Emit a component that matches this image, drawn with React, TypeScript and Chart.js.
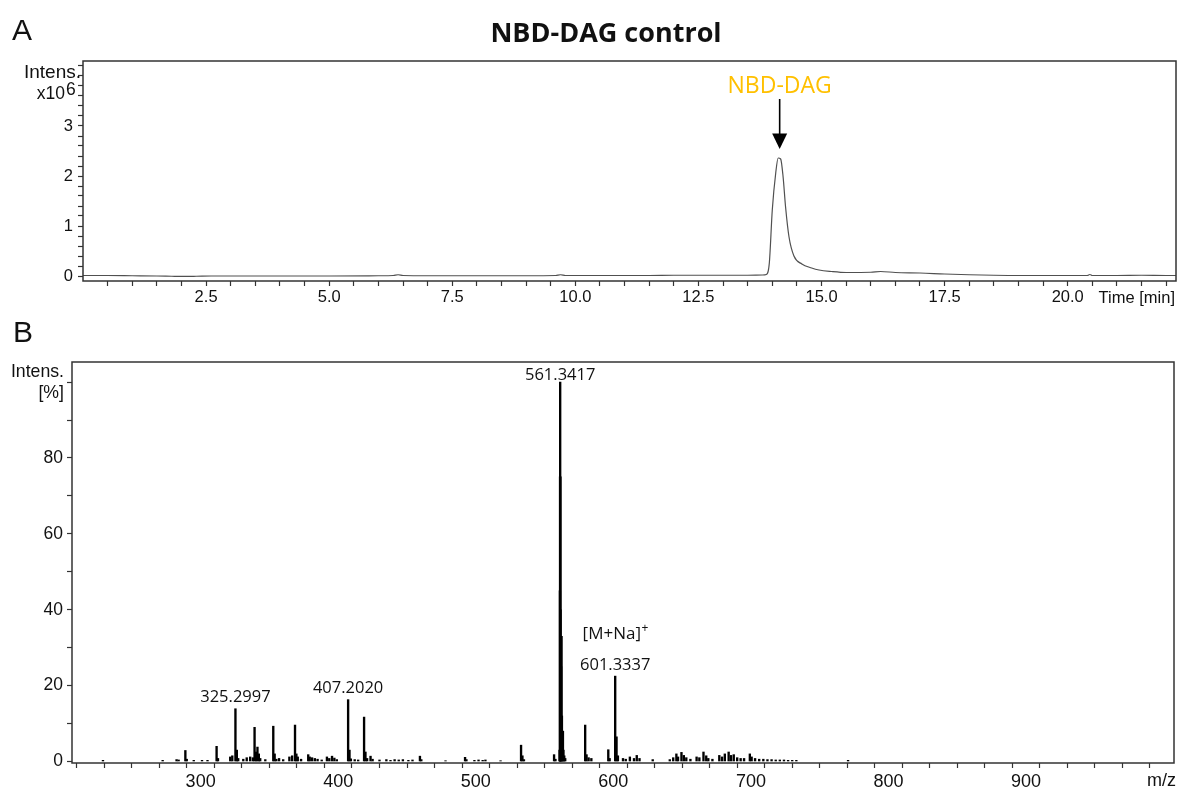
import React, { useEffect, useRef } from "react";
import { Chart, registerables } from "chart.js";

Chart.register(...registerables);
Chart.defaults.font.family = "'Liberation Sans', Arial, sans-serif";

// ---------------- Panel A: chromatogram (Intens. x10^6 vs Time [min]) ----------------
const chromTime: number[] = [
  0, 0.5, 1.0, 1.5, 1.8, 2.0, 2.3, 2.6, 3.0, 4.0, 5.0, 6.0, 6.3, 6.4, 6.5, 7.0, 8.0, 9.0,
  9.6, 9.7, 9.8, 10.5, 11.5, 12.0, 12.5, 13.0, 13.5, 13.8, 13.88, 13.94, 14.0, 14.07,
  14.12, 14.17, 14.22, 14.27, 14.34, 14.44, 14.6, 14.8, 14.95, 15.2, 15.5, 16.0, 16.2,
  16.5, 17.0, 17.5, 18.0, 18.5, 19.0, 19.5, 20.0, 20.4, 20.45, 20.5, 21.0, 21.5, 22.0, 22.2,
];
const chromIntensity: number[] = [
  0.01, 0.01, 0.005, 0.0, -0.005, -0.008, -0.005, 0.0, 0.0, 0.0, 0.0, 0.005, 0.01, 0.025, 0.01, 0.005, 0.005, 0.005,
  0.01, 0.025, 0.01, 0.01, 0.01, 0.015, 0.015, 0.015, 0.015, 0.02, 0.03, 0.26, 1.32, 2.06,
  2.36, 2.34, 1.98, 1.38, 0.78, 0.4, 0.24, 0.16, 0.12, 0.09, 0.07, 0.075, 0.09,
  0.07, 0.06, 0.04, 0.025, 0.015, 0.01, 0.01, 0.01, 0.01, 0.03, 0.01, 0.01, 0.015, 0.01, 0.01,
];
const timeTickLabels: number[] = [2.5, 5.0, 7.5, 10.0, 12.5, 15.0, 17.5, 20.0];
const intensTickLabels: number[] = [0, 1, 2, 3];
const peakAnnotation = { time: 14.15, text: "NBD-DAG" };

// ---------------- Panel B: mass spectrum (Intens. [%] vs m/z) ----------------
const specMz: number[] = [
  229.0, 272.4, 282.5, 284.0, 288.9, 289.9, 295.0, 301.0, 305.0, 311.6,
  312.6, 321.5, 323.0, 325.3, 326.3, 327.3, 331.0, 333.5, 336.0, 338.0,
  339.2, 340.2, 341.3, 342.3, 343.3, 347.0, 352.8, 353.8, 355.0, 357.0,
  360.0, 364.5, 366.5, 368.6, 369.6, 370.6, 373.0, 378.2, 379.3, 381.0,
  383.0, 385.0, 388.0, 391.8, 393.5, 395.5, 397.2, 399.0, 407.2, 408.2,
  409.2, 412.0, 414.5, 418.8, 419.8, 421.0, 423.5, 425.0, 430.0, 435.0,
  438.0, 441.0, 444.0, 447.0, 451.0, 454.0, 459.4, 460.4, 478.0, 492.2,
  493.2, 499.0, 502.0, 505.0, 507.0, 518.0, 532.9, 533.9, 535.0, 556.9,
  557.9, 560.9, 561.15, 561.25, 561.34, 561.45, 561.6, 562.0, 562.34, 562.6,
  563.34, 563.7, 564.3, 565.0, 579.5, 580.5, 582.0, 584.0, 596.3, 597.3,
  601.33, 602.3, 603.3, 607.0, 609.0, 612.0, 615.0, 617.0, 619.0, 628.6,
  641.0, 643.5, 645.8, 647.0, 649.5, 651.2, 653.0, 656.0, 660.5, 662.5,
  665.5, 667.5, 669.0, 672.0, 677.0, 679.0, 681.0, 683.8, 685.5, 687.5,
  690.0, 692.5, 695.0, 699.2, 700.5, 703.0, 706.0, 709.0, 712.0, 715.0,
  718.0, 721.0, 724.0, 727.0, 730.0, 733.0, 770.6,
];
const specRel: number[] = [
  0.3, 0.3, 0.5, 0.4, 2.9, 0.6, 0.3, 0.3, 0.3, 4.0,
  0.8, 1.2, 1.5, 13.9, 3.0, 0.8, 0.6, 1.0, 1.2, 1.0,
  9.0, 2.5, 3.8, 2.0, 0.8, 0.5, 9.3, 2.0, 0.6, 0.8,
  0.5, 1.2, 1.5, 9.6, 2.0, 1.2, 0.6, 1.8, 1.2, 1.0,
  0.8, 0.6, 0.4, 1.2, 0.8, 1.4, 0.9, 0.5, 16.3, 3.0,
  0.7, 0.5, 0.4, 11.7, 2.5, 0.8, 1.4, 0.6, 0.4, 0.5,
  0.3, 0.5, 0.4, 0.5, 0.3, 0.4, 1.4, 0.5, 0.2, 1.1,
  0.5, 0.3, 0.4, 0.3, 0.4, 0.2, 4.3, 1.5, 0.5, 1.8,
  0.6, 3.0, 45, 75, 100, 75, 40, 25, 33, 12,
  8, 3, 1.5, 0.8, 9.6, 1.8, 1.0, 0.8, 3.1, 0.8,
  22.5, 6.5, 1.5, 0.8, 0.6, 1.2, 0.8, 1.6, 0.8, 0.5,
  0.5, 1.0, 2.0, 1.2, 2.4, 1.6, 1.0, 0.6, 1.2, 1.0,
  2.5, 1.5, 0.8, 0.6, 1.6, 1.2, 2.0, 2.5, 1.6, 1.8,
  1.0, 0.8, 0.8, 2.0, 1.2, 0.8, 0.6, 0.6, 0.5, 0.5,
  0.4, 0.4, 0.4, 0.3, 0.3, 0.3, 0.3,
];
const mzTickLabels: number[] = [300, 400, 500, 600, 700, 800, 900];
const relTickLabels: number[] = [0, 20, 40, 60, 80];
const peakLabelMz: number[] = [325.3, 407.2, 561.34, 601.33];
const peakLabelText: string[] = ["325.2997", "407.2020", "561.3417", "601.3337"];
const adductLabel = { mz: 601.33, text: "[M+Na]", sup: "+" };

// ---------------- helpers ----------------
const steps = (start: number, step: number, count: number) =>
  Array.from({ length: count }, (_, i) => +(start + i * step).toFixed(6));
const has = (arr: number[], v: number) => arr.some((a) => Math.abs(a - v) < 1e-6);

const TICK_FONT_A = { family: "'Liberation Sans', Arial, sans-serif", size: 16.5 };
const TICK_FONT_B = { family: "'Liberation Sans', Arial, sans-serif", size: 18 };
const AXIS_COLOR = "#333333";
const TEXT_COLOR = "#111111";

function axisOpts(extra: any) {
  return {
    type: "linear",
    grid: { display: true, drawOnChartArea: false, drawTicks: true, tickLength: 5, tickColor: AXIS_COLOR, tickWidth: 1.2 },
    border: { display: false },
    ...extra,
  };
}

const panelAPlugin = {
  id: "panelA",
  afterDraw(chart: any) {
    const { ctx, chartArea: a, scales } = chart;
    ctx.save();
    ctx.strokeStyle = AXIS_COLOR;
    ctx.lineWidth = 1.5;
    ctx.strokeRect(a.left, a.top, a.right - a.left, a.bottom - a.top);

    ctx.fillStyle = TEXT_COLOR;
    ctx.textBaseline = "alphabetic";
    ctx.font = "30px 'Liberation Sans', Arial, sans-serif";
    ctx.textAlign = "left";
    ctx.fillText("A", 12, 40);

    ctx.font = "bold 27px 'Open Sans', sans-serif";
    ctx.textAlign = "center";
    ctx.fillText("NBD-DAG control", 606, 42);

    ctx.font = "19px 'Liberation Sans', Arial, sans-serif";
    ctx.textAlign = "right";
    ctx.fillText("Intens.", 81, 78);
    ctx.font = "17.5px 'Liberation Sans', Arial, sans-serif";
    ctx.fillText("x10", 65, 99);
    ctx.textAlign = "left";
    ctx.fillText("6", 66, 95);

    ctx.font = "16.5px 'Liberation Sans', Arial, sans-serif";
    ctx.textAlign = "right";
    ctx.textBaseline = "middle";
    ctx.fillText("Time [min]", 1175, a.bottom + 17);

    // annotation arrow
    const x = scales.x.getPixelForValue(peakAnnotation.time);
    const tip = scales.y.getPixelForValue(2.54);
    const tail = scales.y.getPixelForValue(3.54);
    ctx.strokeStyle = "#000";
    ctx.lineWidth = 1.6;
    ctx.beginPath();
    ctx.moveTo(x, tail);
    ctx.lineTo(x, tip - 12);
    ctx.stroke();
    ctx.fillStyle = "#000";
    ctx.beginPath();
    ctx.moveTo(x - 7.5, tip - 15.5);
    ctx.lineTo(x + 7.5, tip - 15.5);
    ctx.lineTo(x, tip);
    ctx.closePath();
    ctx.fill();

    ctx.fillStyle = "#FFC000";
    ctx.font = "23px 'Open Sans', sans-serif";
    ctx.textAlign = "center";
    ctx.textBaseline = "middle";
    ctx.fillText(peakAnnotation.text, x, scales.y.getPixelForValue(3.8));
    ctx.restore();
  },
};

const panelBPlugin = {
  id: "panelB",
  afterDraw(chart: any) {
    const { ctx, chartArea: a, scales } = chart;
    ctx.save();
    ctx.strokeStyle = AXIS_COLOR;
    ctx.lineWidth = 1.5;
    ctx.strokeRect(a.left, a.top, a.right - a.left, a.bottom - a.top);

    ctx.fillStyle = TEXT_COLOR;
    ctx.textBaseline = "alphabetic";
    ctx.font = "30px 'Liberation Sans', Arial, sans-serif";
    ctx.textAlign = "left";
    ctx.fillText("B", 13, 32);

    ctx.font = "17.7px 'Liberation Sans', Arial, sans-serif";
    ctx.textAlign = "right";
    ctx.fillText("Intens.", 64, 67);
    ctx.fillText("[%]", 64, 88);

    ctx.font = "18px 'Liberation Sans', Arial, sans-serif";
    ctx.textBaseline = "middle";
    ctx.fillText("m/z", 1176, a.bottom + 18);

    // peak labels
    ctx.font = "16.5px 'Open Sans', sans-serif";
    ctx.textAlign = "center";
    ctx.textBaseline = "middle";
    const peakTop = (mz: number) => {
      let m = 0;
      specMz.forEach((v, i) => {
        if (Math.abs(v - mz) < 0.3) m = Math.max(m, specRel[i]);
      });
      return m;
    };
    peakLabelMz.forEach((mz, i) => {
      const x = scales.x.getPixelForValue(mz);
      let y = scales.y.getPixelForValue(peakTop(mz)) - 11;
      y = Math.max(y, a.top + 13);
      ctx.fillText(peakLabelText[i], x, y);
    });

    const ax = scales.x.getPixelForValue(adductLabel.mz);
    const ay = scales.y.getPixelForValue(peakTop(adductLabel.mz)) - 11 - 31;
    ctx.font = "17px 'Open Sans', sans-serif";
    const w1 = ctx.measureText(adductLabel.text).width;
    ctx.font = "12px 'Open Sans', sans-serif";
    const w2 = ctx.measureText(adductLabel.sup).width;
    const start = ax - (w1 + w2) / 2;
    ctx.textAlign = "left";
    ctx.font = "17px 'Open Sans', sans-serif";
    ctx.fillText(adductLabel.text, start, ay);
    ctx.font = "12px 'Open Sans', sans-serif";
    ctx.fillText(adductLabel.sup, start + w1 + 0.5, ay - 6);
    ctx.restore();
  },
};

export default function App() {
  const refA = useRef<HTMLCanvasElement>(null);
  const refB = useRef<HTMLCanvasElement>(null);

  useEffect(() => {
    const timeTicks = steps(0.5, 0.5, 44);
    const intensTicks = steps(0, 0.2, 22);
    const mzTicks = steps(220, 20, 40);
    const relTicks = steps(0, 10, 11);

    const chartA = new Chart(refA.current as HTMLCanvasElement, {
      type: "line",
      data: {
        datasets: [
          {
            data: chromTime.map((t, i) => ({ x: t, y: chromIntensity[i] })),
            borderColor: "#505050",
            borderWidth: 1.2,
            pointRadius: 0,
            fill: false,
            cubicInterpolationMode: "monotone",
          },
        ],
      },
      options: {
        responsive: false,
        animation: false,
        layout: { padding: { top: 61, right: 4, left: 0, bottom: 0 } },
        plugins: { legend: { display: false }, tooltip: { enabled: false }, title: { display: false } },
        scales: {
          x: axisOpts({
            min: 0,
            max: 22.2,
            afterBuildTicks: (s: any) => { s.ticks = timeTicks.map((v) => ({ value: v })); },
            afterFit: (s: any) => { s.height = 29; },
            ticks: {
              autoSkip: false, maxRotation: 0, minRotation: 0, padding: 2, color: TEXT_COLOR, font: TICK_FONT_A,
              callback: (v: any) => (has(timeTickLabels, Number(v)) ? Number(v).toFixed(1) : ""),
            },
          }),
          y: axisOpts({
            min: -0.1,
            max: 4.3,
            afterBuildTicks: (s: any) => { s.ticks = intensTicks.map((v) => ({ value: v })); },
            afterFit: (s: any) => { s.width = 83; },
            ticks: {
              autoSkip: false, padding: 5, color: TEXT_COLOR, font: TICK_FONT_A,
              callback: (v: any) => (has(intensTickLabels, Number(v)) ? String(Math.round(Number(v))) : ""),
            },
          }),
        },
      } as any,
      plugins: [panelAPlugin],
    } as any);

    const chartB = new Chart(refB.current as HTMLCanvasElement, {
      type: "bar",
      data: {
        datasets: [
          {
            data: specMz.map((m, i) => ({ x: m, y: specRel[i] })),
            backgroundColor: "#000000",
            borderWidth: 0,
            barThickness: 1.7,
            grouped: false,
          },
        ],
      },
      options: {
        responsive: false,
        animation: false,
        layout: { padding: { top: 52, right: 6, left: 0, bottom: 0 } },
        plugins: { legend: { display: false }, tooltip: { enabled: false }, title: { display: false } },
        scales: {
          x: axisOpts({
            min: 206.5,
            max: 1007.5,
            offset: false,
            afterBuildTicks: (s: any) => { s.ticks = mzTicks.map((v) => ({ value: v })); },
            afterFit: (s: any) => { s.height = 29; },
            ticks: {
              autoSkip: false, maxRotation: 0, minRotation: 0, padding: 3, color: TEXT_COLOR, font: TICK_FONT_B,
              callback: (v: any) => (has(mzTickLabels, Number(v)) ? String(Math.round(Number(v))) : ""),
            },
          }),
          y: axisOpts({
            min: -0.4,
            max: 105.3,
            afterBuildTicks: (s: any) => { s.ticks = relTicks.map((v) => ({ value: v })); },
            afterFit: (s: any) => { s.width = 72; },
            ticks: {
              autoSkip: false, padding: 4, color: TEXT_COLOR, font: { ...TICK_FONT_B, size: 17.5 },
              callback: (v: any) => (has(relTickLabels, Number(v)) ? String(Math.round(Number(v))) : ""),
            },
          }),
        },
      } as any,
      plugins: [panelBPlugin],
    } as any);

    return () => {
      chartA.destroy();
      chartB.destroy();
    };
  }, []);

  return (
    <div style={{ position: "absolute", left: 0, top: 0, width: 1180, height: 792, background: "#ffffff" }}>
      <canvas ref={refA} width={1180} height={310} style={{ position: "absolute", left: 0, top: 0 }} />
      <canvas ref={refB} width={1180} height={482} style={{ position: "absolute", left: 0, top: 310 }} />
    </div>
  );
}
